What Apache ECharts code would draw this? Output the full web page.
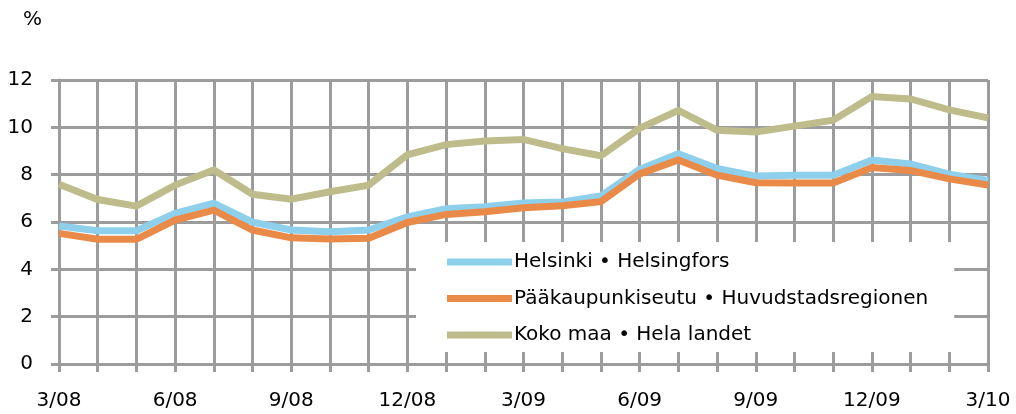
<!DOCTYPE html>
<html>
<head>
<meta charset="utf-8">
<script src="https://cdn.jsdelivr.net/npm/echarts@6/dist/echarts.min.js"></script>
<style>
html,body{margin:0;padding:0;background:#fff;}
#chart{width:1016px;height:414px;}
</style>
</head>
<body>
<div id="chart"></div>
<script>
const categories = ["3/08","4/08","5/08","6/08","7/08","8/08","9/08","10/08","11/08","12/08",
  "1/09","2/09","3/09","4/09","5/09","6/09","7/09","8/09","9/09","10/09","11/09","12/09",
  "1/10","2/10","3/10"];
const helsinki = [5.83,5.63,5.63,6.37,6.79,5.99,5.66,5.59,5.66,6.22,6.56,6.64,6.8,6.85,7.1,8.22,8.88,8.26,7.94,7.98,7.98,8.62,8.45,8.02,7.76];
const paakaupunkiseutu = [5.52,5.27,5.27,6.08,6.5,5.66,5.33,5.28,5.31,5.98,6.32,6.43,6.6,6.69,6.86,8.03,8.62,7.98,7.66,7.65,7.65,8.3,8.18,7.82,7.56];
const kokoMaa = [7.6,6.95,6.67,7.56,8.2,7.17,6.96,7.28,7.56,8.84,9.27,9.42,9.49,9.1,8.8,9.96,10.72,9.88,9.8,10.05,10.3,11.3,11.2,10.74,10.4];
const seriesNames = ["Helsinki • Helsingfors","Pääkaupunkiseutu • Huvudstadsregionen","Koko maa • Hela landet"];
const yTicks = {min:0, max:12, interval:2};

const gridColor = '#9c9c9c';
const font = 'DejaVu Sans, sans-serif';
const chart = echarts.init(document.getElementById('chart'), null, {renderer:'canvas'});
const mkSeries = (name, data, color, z) => ({
  name, type:'line', data, symbol:'none', z,
  lineStyle:{color, width:7, cap:'butt', join:'miter'},
  itemStyle:{color}
});
chart.setOption({
  animation:false,
  backgroundColor:'#fff',
  textStyle:{fontFamily:font},
  title:{text:'%', left:18, top:5, textStyle:{fontFamily:font, fontSize:20, fontWeight:'normal', color:'#000'}},
  grid:{left:59, right:28, top:80, bottom:50, containLabel:false},
  xAxis:{
    type:'category', data:categories, boundaryGap:false,
    axisLine:{show:true, lineStyle:{color:gridColor, width:3}},
    axisTick:{show:true, interval:0, length:8, lineStyle:{color:gridColor, width:3}},
    axisLabel:{interval:2, margin:27, color:'#000', fontSize:20, fontFamily:font},
    splitLine:{show:true, interval:0, lineStyle:{color:gridColor, width:3}}
  },
  yAxis:{
    type:'value', min:yTicks.min, max:yTicks.max, interval:yTicks.interval,
    axisLine:{show:true, lineStyle:{color:gridColor, width:3}},
    axisTick:{show:true, length:8, lineStyle:{color:gridColor, width:3}},
    axisLabel:{margin:26, align:'right', color:'#000', fontSize:20, fontFamily:font},
    splitLine:{show:true, lineStyle:{color:gridColor, width:3}}
  },
  legend:{
    orient:'vertical', left:416, top:242,
    backgroundColor:'#fff',
    padding:[9,26,6,31],
    itemWidth:65, itemHeight:7, itemGap:14.5,
    icon:'rect',
    data:seriesNames,
    textStyle:{fontFamily:font, fontSize:20, color:'#000', lineHeight:22, padding:[0,0,0,-3]}
  },
  series:[
    mkSeries(seriesNames[0], helsinki, '#8ecfeb', 3),
    mkSeries(seriesNames[1], paakaupunkiseutu, '#ea8a48', 4),
    mkSeries(seriesNames[2], kokoMaa, '#bfbc8c', 2)
  ]
});
</script>
</body>
</html>
